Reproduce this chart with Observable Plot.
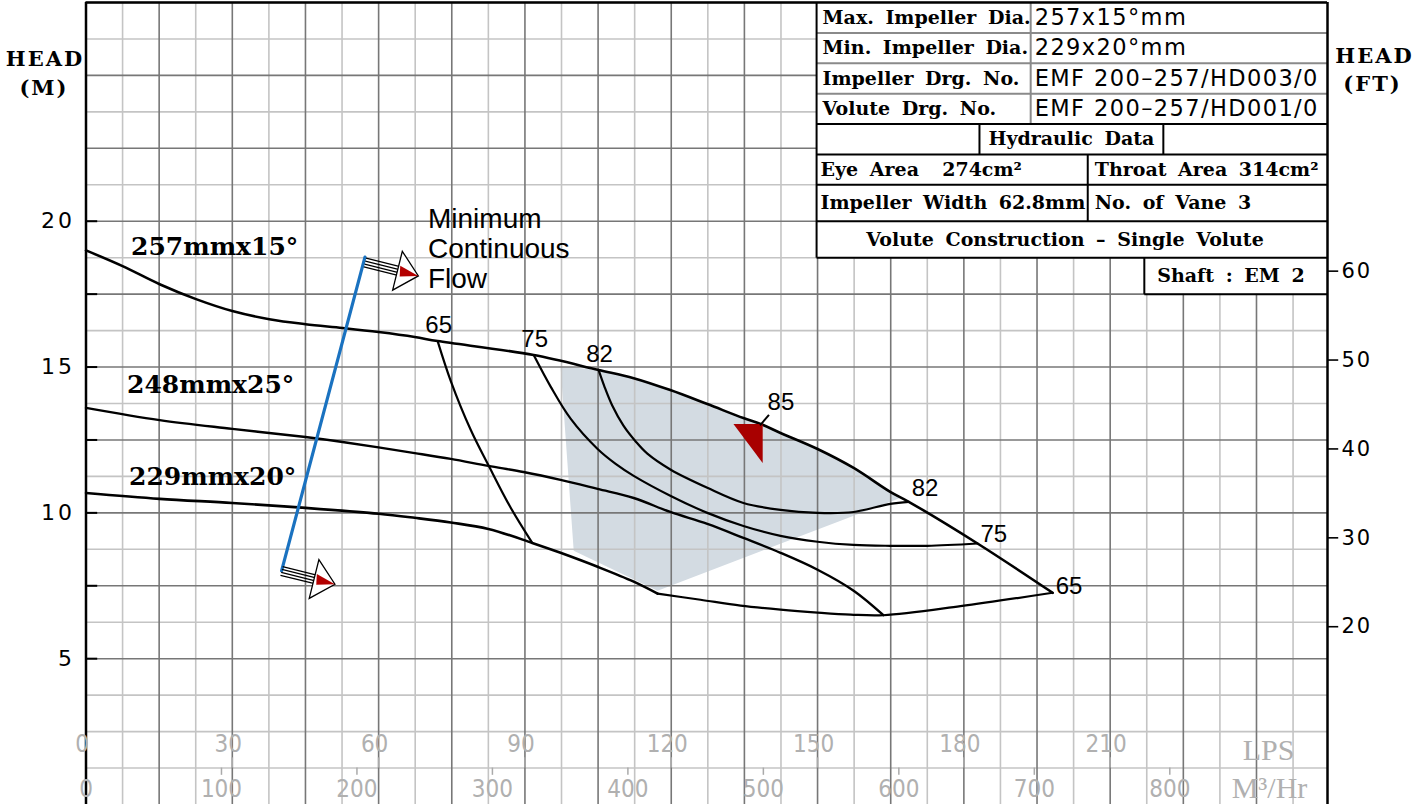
<!DOCTYPE html>
<html>
<head>
<meta charset="utf-8">
<script src="https://cdn.jsdelivr.net/npm/d3@7"></script>
<script src="https://cdn.jsdelivr.net/npm/@observablehq/plot@0.6"></script>
<style>
  html, body { margin: 0; padding: 0; background: #fff; }
  #chart { width: 1424px; height: 804px; overflow: hidden; }
</style>
</head>
<body>
<div id="chart"></div>
<script>
// ---------------- DATA (flow in LPS, head in m) ----------------
const q257 = [0, 7.5, 15.1, 22.7, 30.0, 37.6, 45.0, 52.6, 60.0, 67.4, 72.1, 91.8, 105.1, 112.3, 119.8, 127.4, 134.8, 138.3, 142.4, 150.0, 157.4, 164.9, 168.7, 182.8, 198.2];
const h257 = [19.0, 18.46, 17.84, 17.32, 16.92, 16.64, 16.47, 16.34, 16.20, 16.03, 15.89, 15.41, 14.90, 14.62, 14.21, 13.73, 13.25, 13.05, 12.74, 12.19, 11.54, 10.72, 10.38, 8.95, 7.26];

const q248 = [0, 15.1, 30.0, 45.0, 52.6, 67.4, 74.8, 82.5, 89.7, 97.3, 104.9, 112.3, 119.8, 127.4, 134.8, 142.4, 150.0, 157.4, 163.5];
const h248 = [13.60, 13.18, 12.88, 12.60, 12.43, 12.05, 11.85, 11.61, 11.40, 11.13, 10.82, 10.51, 10.03, 9.62, 9.14, 8.63, 8.05, 7.33, 6.49];

const q229 = [0, 15.1, 30.0, 45.0, 60.0, 67.4, 74.8, 82.5, 91.5, 97.3, 104.9, 112.3, 117.2];
const h229 = [10.68, 10.48, 10.34, 10.17, 9.97, 9.83, 9.67, 9.45, 8.97, 8.63, 8.15, 7.64, 7.23];

// iso-efficiency lines
const q65a = [72.1, 74.8, 78.9, 82.5, 87.0, 91.5];
const h65a = [15.89, 14.52, 12.84, 11.64, 10.20, 8.97];
const q65b = [117.2, 126.0, 134.2, 142.4, 150.0, 156.8, 163.5, 179.3, 198.2];
const h65b = [7.23, 7.02, 6.82, 6.68, 6.58, 6.51, 6.49, 6.80, 7.26];
const q75 = [91.8, 95.3, 99.4, 104.9, 108.6, 112.3, 119.9, 127.4, 134.8, 142.4, 150.0, 157.4, 164.9, 172.5, 182.8];
const h75 = [15.41, 14.32, 13.22, 12.19, 11.68, 11.27, 10.58, 10.00, 9.55, 9.21, 9.01, 8.90, 8.87, 8.87, 8.95];
const q82 = [105.1, 106.3, 107.9, 110.2, 112.7, 115.1, 119.9, 127.4, 134.8, 142.4, 150.0, 157.4, 164.9, 168.7];
const h82 = [14.90, 14.33, 13.68, 12.99, 12.45, 12.03, 11.48, 10.86, 10.34, 10.10, 10.00, 10.03, 10.31, 10.38];

// best efficiency point (85 %)
const bepQ = 138.6, bepH = 13.05, bepLabel = "85";

// preferred operating region corners (besides the top edge on the 257 curve)
const shadeQ = [97.3, 100.0, 117.2, 166.8];
const shadeH = [15.03, 8.70, 7.33, 10.50];

// minimum continuous flow line
const mcfQ = [57.2, 40.1];
const mcfH = [18.77, 8.01];

// labels
const curveNames = ["257mmx15°", "248mmx25°", "229mmx20°"];
const yTickLabels = [5, 10, 15, 20];
const yTickMarks = [5, 7.5, 10, 12.5, 15, 17.5, 20];
const ftTicks = [20, 30, 40, 50, 60];
const lpsTicks = [0, 30, 60, 90, 120, 150, 180, 210];
const m3hTicks = [0, 100, 200, 300, 400, 500, 600, 700, 800];

const tableLeft = ["Max. Impeller Dia.", "Min. Impeller Dia.", "Impeller Drg. No.", "Volute Drg. No."];
const tableRight = ["257x15°mm", "229x20°mm", "EMF 200–257/HD003/0", "EMF 200–257/HD001/0"];
const tableHydraulic = "Hydraulic Data";
const tableLowerLeft = ["Eye Area  274cm²", "Impeller Width 62.8mm"];
const tableLowerRight = ["Throat Area 314cm²", "No. of Vane 3"];
const tableVolute = "Volute Construction – Single Volute";
const tableShaft = "Shaft : EM 2";

// ---------------- LAYOUT ----------------
const xMax = 254.56, yMax = 27.5;
const pts = (qs, hs) => qs.map((q, i) => ({q, h: hs[i]}));
const c257 = pts(q257, h257), c248 = pts(q248, h248), c229 = pts(q229, h229);

const xGridLight = d3.range(7.5, xMax, 15);
const xGridDark = d3.range(15, xMax, 15);
const yGridLight = d3.range(1.25, yMax, 2.5);
const yGridDark = d3.range(5, yMax + 0.01, 2.5);
const yGridDark0 = [2.5];

const shadePoly = [
  ...pts(shadeQ, shadeH),
  ...c257.filter(d => d.q > shadeQ[0] && d.q < shadeQ[3]).reverse()
];

// table layout (data units)
const T = {
  x0: 149.8, x1: xMax, xMid: 193.7, xH0: 183.2, xH1: 220.9, xLow: 205.4, xShaft: 217.0,
  r: [27.5, 26.458, 25.417, 24.375, 23.333, 22.292, 21.25, 20, 18.75, 17.5]
};
const rc = i => (T.r[i] + T.r[i + 1]) / 2;
const seg = (x1, y1, x2, y2) => ({x1, y1, x2, y2});
const graySegs = [
  seg(T.x0, T.r[1], T.x1, T.r[1]), seg(T.x0, T.r[2], T.x1, T.r[2]), seg(T.x0, T.r[3], T.x1, T.r[3]),
  seg(T.xMid, T.r[0], T.xMid, T.r[4])
];
const blackSegs = [
  seg(T.x0, T.r[4], T.x1, T.r[4]), seg(T.x0, T.r[5], T.x1, T.r[5]), seg(T.x0, T.r[6], T.x1, T.r[6]),
  seg(T.x0, T.r[7], T.x1, T.r[7]), seg(T.x0, T.r[8], T.x1, T.r[8]),
  seg(T.x0, T.r[0], T.x0, T.r[8]),
  seg(T.xH0, T.r[4], T.xH0, T.r[5]), seg(T.xH1, T.r[4], T.xH1, T.r[5]),
  seg(T.xLow, T.r[5], T.xLow, T.r[7]),
  seg(T.xShaft, T.r[8], T.xShaft, T.r[9]), seg(T.xShaft, T.r[9], T.x1, T.r[9])
];

// arrow glyphs (rotated 14deg)
const ang = 14 * Math.PI / 180, ca = Math.cos(ang), sa = Math.sin(ang);
const R = (u, v) => [u * ca - v * sa, u * sa + v * ca];
const sym = (paths, close, rot = true) => ({
  draw(ctx) {
    for (const p of paths) {
      p.forEach(([u, v], i) => { const [x, y] = rot ? R(u, v) : [u, v]; i ? ctx.lineTo(x, y) : ctx.moveTo(x, y); });
      if (close) ctx.closePath();
    }
  }
});
const shaftSym = sym([-4.5, -1.5, 1.5, 4.5].map(v => [[0, v], [34, v]]), false);
const headSym = sym([[[33.5, -20], [55, 0], [33.5, 20]]], true);
const redSym = sym([[[35, -5.5], [55, 0], [37, 5]]], true);
const bepTri = sym([[[-28.5, 0], [0.7, 0], [0.7, 39]]], true, false);
const bepLead = sym([[[-2, 1.5], [7, -9]]], false, false);

const serif = "'DejaVu Serif', serif";
const sans = "'DejaVu Sans', sans-serif";
const arial = "'Liberation Sans', Arial, sans-serif";
const cond = "'DejaVu Sans Condensed', 'DejaVu Sans', sans-serif";

function arrowMarks(i, dy) {
  const d = [{q: mcfQ[i], h: mcfH[i]}];
  return [
    Plot.dot(d, {x: "q", y: "h", dy, symbol: shaftSym, fill: "none", stroke: "black", strokeWidth: 1.3}),
    Plot.dot(d, {x: "q", y: "h", dy, symbol: headSym, fill: "white", stroke: "black", strokeWidth: 1.3}),
    Plot.dot(d, {x: "q", y: "h", dy, symbol: redSym, fill: "#b40000", stroke: "none"})
  ];
}

const effLeft = [
  {t: "65", q: q65a[0], h: h65a[0]}, {t: "75", q: q75[0], h: h75[0]}, {t: "82", q: q82[0], h: h82[0]}
];
const effRight = [
  {t: "82", q: q82.at(-1), h: h82.at(-1), dy: -13},
  {t: "75", q: q75.at(-1), h: h75.at(-1), dy: -9},
  {t: "65", q: q65b.at(-1), h: h65b.at(-1), dy: -6}
];
const nameOffsets = [[45, -3], [41, -23], [43, -16]];
const curveStarts = [c257[0], c248[0], c229[0]];

// font sizes double as hooks for the spacing styles applied after rendering
const TBL_SERIF = 19, TBL_SANS = 22.5, Y_LBL = 22, FT_LBL = 21;
const serifBold = {fontFamily: serif, fontWeight: "bold", fontSize: TBL_SERIF, fill: "black", lineAnchor: "middle"};

const plot = Plot.plot({
  width: 1424, height: 804,
  marginLeft: 85.5, marginRight: 97, marginTop: 2, marginBottom: 0,
  x: {domain: [0, xMax], axis: null},
  y: {domain: [0, yMax], axis: null},
  style: {background: "white", overflow: "visible"},
  marks: [
    // operating region
    Plot.line(shadePoly, {x: "q", y: "h", fill: "#d3dbe2", stroke: "none"}),
    // grid
    Plot.ruleX(xGridLight, {stroke: "#c4c4c4", strokeWidth: 1.6}),
    Plot.ruleY(yGridLight, {stroke: "#c4c4c4", strokeWidth: 1.6}),
    Plot.ruleY(yGridDark0, {stroke: "#c4c4c4", strokeWidth: 1.6}),
    Plot.ruleX(xGridDark, {stroke: "#777", strokeWidth: 1.6}),
    Plot.ruleY(yGridDark, {stroke: "#777", strokeWidth: 1.6}),

    // table
    Plot.rect([{x1: T.x0, x2: T.x1, y1: T.r[8], y2: T.r[0]}, {x1: T.xShaft, x2: T.x1, y1: T.r[9], y2: T.r[8]}],
      {x1: "x1", x2: "x2", y1: "y1", y2: "y2", fill: "white"}),
    Plot.link(graySegs, {x1: "x1", y1: "y1", x2: "x2", y2: "y2", stroke: "#8a8a8a", strokeWidth: 2}),
    Plot.link(blackSegs, {x1: "x1", y1: "y1", x2: "x2", y2: "y2", stroke: "black", strokeWidth: 2}),
    Plot.text(tableLeft, {x: () => T.x0, y: (d, i) => rc(i), dx: 6, text: d => d, textAnchor: "start", ...serifBold}),
    Plot.text(tableRight, {x: () => T.xMid, y: (d, i) => rc(i), dx: 4, text: d => d, textAnchor: "start", lineAnchor: "middle",
      fontFamily: sans, fontSize: TBL_SANS, fill: "black"}),
    Plot.text([tableHydraulic], {x: () => (T.xH0 + T.xH1) / 2, y: () => rc(4), text: d => d, textAnchor: "middle", ...serifBold}),
    Plot.text(tableLowerLeft, {x: () => T.x0, y: (d, i) => rc(5 + i), dx: 4, text: d => d, textAnchor: "start", ...serifBold}),
    Plot.text(tableLowerRight, {x: () => T.xLow, y: (d, i) => rc(5 + i), dx: 7, text: d => d, textAnchor: "start", ...serifBold}),
    Plot.text([tableVolute], {x: () => (T.x0 + T.x1) / 2, y: () => rc(7), dx: -7, text: d => d, textAnchor: "middle", ...serifBold}),
    Plot.text([tableShaft], {x: () => (T.xShaft + T.x1) / 2, y: () => rc(8), dx: -5, text: d => d, textAnchor: "middle", ...serifBold}),

    // frame
    Plot.ruleX([0, xMax], {stroke: "black", strokeWidth: 2.5}),
    Plot.ruleY([yMax], {stroke: "black", strokeWidth: 2.5}),

    // left axis (m)
    Plot.ruleY(yTickMarks, {x1: 0, x2: 2.4, stroke: "black", strokeWidth: 2}),
    Plot.text(yTickLabels, {y: d => d, frameAnchor: "left", dx: -11, textAnchor: "end", lineAnchor: "middle",
      text: d => String(d), fontFamily: sans, fontSize: Y_LBL, fill: "black"}),
    Plot.text(["HEAD"], {frameAnchor: "top-left", dx: -41, dy: 57, textAnchor: "middle", lineAnchor: "middle", text: d => d,
      fontFamily: serif, fontWeight: "bold", fontSize: 21, fill: "black"}),
    Plot.text(["(M)"], {frameAnchor: "top-left", dx: -42, dy: 86, textAnchor: "middle", lineAnchor: "middle", text: d => d,
      fontFamily: serif, fontWeight: "bold", fontSize: 21, fill: "black"}),

    // right axis (ft)
    Plot.ruleY(ftTicks, {y: d => d * 0.3048, x1: xMax, x2: xMax + 2.3, stroke: "black", strokeWidth: 1.6}),
    Plot.text(ftTicks, {y: d => d * 0.3048, frameAnchor: "right", dx: 14, textAnchor: "start", lineAnchor: "middle",
      text: d => String(d), fontFamily: sans, fontSize: FT_LBL, fill: "black"}),
    Plot.text(["HEAD"], {frameAnchor: "top-right", dx: 47, dy: 54, textAnchor: "middle", lineAnchor: "middle", text: d => d,
      fontFamily: serif, fontWeight: "bold", fontSize: 21, fill: "black"}),
    Plot.text(["(FT)"], {frameAnchor: "top-right", dx: 45, dy: 82, textAnchor: "middle", lineAnchor: "middle", text: d => d,
      fontFamily: serif, fontWeight: "bold", fontSize: 21, fill: "black"}),

    // bottom flow scales
    Plot.ruleX(lpsTicks.filter(d => d > 0), {x: d => d, y1: 1.25, y2: 1.6, stroke: "#aaa", strokeWidth: 1.5}),
    Plot.ruleX(m3hTicks.filter(d => d > 0), {x: d => d / 3.6, y1: 1.0, y2: 1.25, stroke: "#aaa", strokeWidth: 1.5}),
    Plot.text(lpsTicks, {x: d => d, frameAnchor: "bottom", dy: -60, dx: -4, textAnchor: "middle", lineAnchor: "middle", text: d => String(d),
      fontFamily: cond, fontSize: 24, fill: "#b0b0b0"}),
    Plot.text(m3hTicks, {x: d => d / 3.6, frameAnchor: "bottom", dy: -15, textAnchor: "middle", lineAnchor: "middle", text: d => String(d),
      fontFamily: cond, fontSize: 24, fill: "#b0b0b0"}),
    Plot.text(["LPS"], {frameAnchor: "bottom-right", dx: -59, dy: -54, textAnchor: "middle", lineAnchor: "middle", text: d => d,
      fontFamily: "'Liberation Serif', serif", fontSize: 30, fill: "#b0b0b0"}),
    Plot.text(["M³/Hr"], {frameAnchor: "bottom-right", dx: -58, dy: -16, textAnchor: "middle", lineAnchor: "middle", text: d => d,
      fontFamily: "'Liberation Serif', serif", fontSize: 30, fill: "#b0b0b0"}),

    // impeller curves
    Plot.line(c257, {x: "q", y: "h", curve: "catmull-rom", stroke: "black", strokeWidth: 2.6}),
    Plot.line(c248, {x: "q", y: "h", curve: "catmull-rom", stroke: "black", strokeWidth: 2.4}),
    Plot.line(c229, {x: "q", y: "h", curve: "catmull-rom", stroke: "black", strokeWidth: 2.6}),
    // efficiency curves
    Plot.line(pts(q65a, h65a), {x: "q", y: "h", curve: "catmull-rom", stroke: "black", strokeWidth: 2.2}),
    Plot.line(pts(q65b, h65b), {x: "q", y: "h", curve: "catmull-rom", stroke: "black", strokeWidth: 2.2}),
    Plot.line(pts(q75, h75), {x: "q", y: "h", curve: "catmull-rom", stroke: "black", strokeWidth: 2.2}),
    Plot.line(pts(q82, h82), {x: "q", y: "h", curve: "catmull-rom", stroke: "black", strokeWidth: 2.2}),

    // curve names
    ...curveStarts.map((d, i) => Plot.text([d], {x: "q", y: "h", dx: nameOffsets[i][0], dy: nameOffsets[i][1],
      text: () => curveNames[i], textAnchor: "start", lineAnchor: "middle",
      fontFamily: serif, fontWeight: "bold", fontSize: 25, fill: "black"})),

    // efficiency labels
    Plot.text(effLeft, {x: "q", y: "h", dx: 1, dy: -16, text: "t", textAnchor: "middle", lineAnchor: "middle", fontFamily: arial, fontSize: 24, fill: "black"}),
    ...effRight.map(d => Plot.text([d], {x: "q", y: "h", dx: 3, dy: d.dy, text: "t", textAnchor: "start", lineAnchor: "middle",
      fontFamily: arial, fontSize: 24, fill: "black"})),

    // BEP marker
    Plot.dot([{q: bepQ, h: bepH}], {x: "q", y: "h", symbol: bepTri, fill: "#a80000", stroke: "none"}),
    Plot.dot([{q: bepQ, h: bepH}], {x: "q", y: "h", symbol: bepLead, fill: "none", stroke: "black", strokeWidth: 2}),
    Plot.text([{q: bepQ, h: bepH}], {x: "q", y: "h", dx: 19, dy: -22, text: () => bepLabel, textAnchor: "middle", lineAnchor: "middle",
      fontFamily: arial, fontSize: 24, fill: "black"}),

    // minimum continuous flow
    Plot.line(pts(mcfQ, mcfH), {x: "q", y: "h", stroke: "#1a72c0", strokeWidth: 3.2}),
    ...arrowMarks(0, 5.5),
    ...arrowMarks(1, 0),
    Plot.text([{q: mcfQ[0], h: mcfH[0]}], {x: "q", y: "h", dx: 63, dy: -51, text: () => "Minimum\nContinuous\nFlow",
      textAnchor: "start", lineAnchor: "top", lineHeight: 1.08, fontFamily: arial, fontSize: 28, fill: "black"})
  ]
});
document.getElementById("chart").appendChild(plot);

// spacing styles (letter / word spacing) applied to the rendered text groups
const svg = d3.select(plot);
svg.selectAll(`g[font-size="${TBL_SERIF}"] text`).style("word-spacing", "5px").style("white-space", "pre");
svg.selectAll(`g[font-size="${TBL_SANS}"] text`).style("letter-spacing", "1.4px");
svg.selectAll(`g[font-size="${Y_LBL}"] text`).style("letter-spacing", "3px");
svg.selectAll(`g[font-size="${FT_LBL}"] text`).style("letter-spacing", "2px");
</script>
</body>
</html>
